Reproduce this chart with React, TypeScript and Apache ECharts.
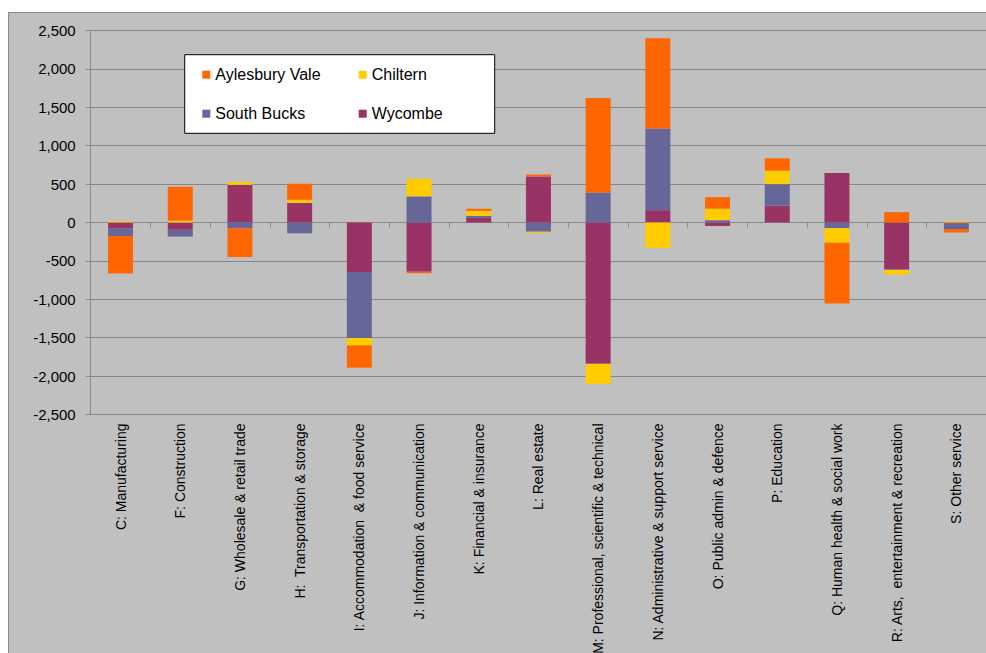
import React, { useEffect, useRef } from "react";
import * as echarts from "echarts";

// Change in employee jobs by industry, per district
const categories = [
  "C: Manufacturing",
  "F: Construction",
  "G: Wholesale & retail trade",
  "H:  Transportation & storage",
  "I: Accommodation  & food service",
  "J: Information & communication",
  "K: Financial & insurance",
  "L: Real estate",
  "M: Professional, scientific & technical",
  "N: Administrative & support service",
  "O: Public admin & defence",
  "P: Education",
  "Q: Human health & social work",
  "R: Arts,  entertainment & recreation",
  "S: Other service",
];

const wycombe = [-80, -95, 490, 255, -645, -640, 60, 600, -1840, 160, -45, 220, 645, -610, -15];
const southBucks = [-95, -88, -75, -140, -860, 340, 27, -120, 390, 1065, 30, 280, -75, -8, -70];
const chiltern = [15, 25, 35, 40, -95, 230, 65, -15, -260, -330, 150, 175, -190, -60, 15];
const aylesburyVale = [-490, 440, -375, 210, -290, -20, 27, 25, 1230, 1175, 150, 160, -790, 135, -45];

const yTicks = { min: -2500, max: 2500, step: 500 };

const FONT = "'Liberation Sans', Arial, sans-serif";
const COLORS = {
  aylesbury: "#FF6600",
  chiltern: "#FFCC00",
  southBucks: "#666699",
  wycombe: "#993366",
};

export default function App() {
  const ref = useRef<HTMLDivElement>(null);

  useEffect(() => {
    document.documentElement.style.overflow = "hidden";
    document.body.style.overflow = "hidden";
    if (!ref.current) return;
    const chart = echarts.init(ref.current, undefined, { renderer: "svg" });

    const bar = (name: string, data: number[], color: string) => ({
      name,
      type: "bar",
      stack: "total",
      barWidth: 25,
      data,
      itemStyle: { color },
      emphasis: { disabled: true },
    });

    const legendItem = (name: string, left: number, top: number) => ({
      data: [name],
      left,
      top,
      padding: 0,
      itemWidth: 8,
      itemHeight: 8,
      icon: "rect",
      selectedMode: false,
      textStyle: { fontFamily: FONT, fontSize: 16, color: "#000", lineHeight: 16 },
    });

    chart.setOption({
      animation: false,
      backgroundColor: "#C0C0C0",
      grid: { left: 81.7, top: 17.5, width: 895.5, height: 384, containLabel: false },
      graphic: [
        {
          type: "rect",
          shape: { x: 175.7, y: 41.7, width: 310, height: 78.6 },
          style: { fill: "#FFFFFF", stroke: "#000000", lineWidth: 1 },
          z: 10,
        },
      ],
      legend: [
        legendItem("Aylesbury Vale", 193.3, 53.7),
        legendItem("Chiltern", 349.7, 53.7),
        legendItem("South Bucks", 193.3, 92.7),
        legendItem("Wycombe", 349.7, 92.7),
      ].map((l) => ({ ...l, z: 20 })),
      xAxis: [
        {
          type: "category",
          data: categories,
          axisLine: { onZero: true, lineStyle: { color: "#8A8A8A", width: 1 } },
          axisTick: { show: true, length: 5, interval: 0, lineStyle: { color: "#8A8A8A" } },
          axisLabel: { show: false },
          splitLine: { show: false },
        },
        {
          type: "category",
          data: categories,
          position: "bottom",
          axisLine: { show: false, onZero: false },
          axisTick: { show: false },
          axisLabel: {
            interval: 0,
            rotate: 90,
            margin: 9,
            fontFamily: FONT,
            fontSize: 14,
            color: "#000",
          },
        },
      ],
      yAxis: {
        type: "value",
        min: yTicks.min,
        max: yTicks.max,
        interval: yTicks.step,
        axisLine: { show: true, lineStyle: { color: "#8A8A8A", width: 1 } },
        axisTick: { show: true, length: 5, lineStyle: { color: "#8A8A8A" } },
        axisLabel: {
          margin: 15,
          fontFamily: FONT,
          fontSize: 15,
          color: "#000",
          formatter: (v: number) => v.toLocaleString("en-US"),
        },
        splitLine: { show: true, lineStyle: { color: "#878787", width: 1 } },
      },
      series: [
        bar("Wycombe", wycombe, COLORS.wycombe),
        bar("South Bucks", southBucks, COLORS.southBucks),
        bar("Chiltern", chiltern, COLORS.chiltern),
        bar("Aylesbury Vale", aylesburyVale, COLORS.aylesbury),
      ],
    });

    return () => chart.dispose();
  }, []);

  return (
    <div
      style={{
        position: "absolute",
        left: 8,
        top: 12,
        width: 990,
        height: 650,
        borderLeft: "1px solid #8C8C8C",
        borderTop: "1px solid #8C8C8C",
        background: "#C0C0C0",
      }}
    >
      <div ref={ref} style={{ width: 989, height: 649 }} />
    </div>
  );
}
